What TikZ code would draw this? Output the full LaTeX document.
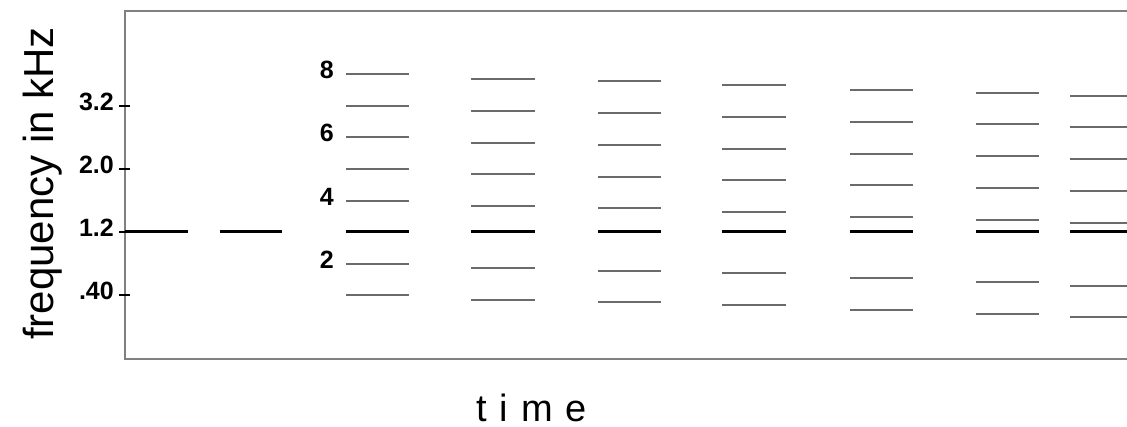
\documentclass[tikz,border=0pt]{standalone}
\usepackage{fontspec}
\setmainfont{Liberation Sans}
\begin{document}
\begin{tikzpicture}[x=1pt,y=-1pt,
  frame/.style={draw=black!50,line width=1.3pt},
  tickmark/.style={draw=black,line width=2.6pt},
  thinline/.style={draw=black!58,line width=1.2pt},
  thickline/.style={draw=black,line width=3pt},
  ticklab/.style={font=\bfseries\fontsize{25}{25}\selectfont,inner sep=0pt,anchor=base east},
  axislab/.style={font=\fontsize{42}{42}\selectfont,inner sep=0pt}]
\useasboundingbox (0,0) rectangle (1127,427);
\fill[white] (0,0) rectangle (1127,427);
% frame (open on the right)
\draw[frame] (1127,11) -- (125,11) -- (125,359) -- (1127,359);
% y ticks and labels
\foreach \y/\t/\n in {106/3.2/ta,169/2.0/tb,232/1.2/tc,295/.40/td}{
  \draw[tickmark] (119,\y) -- (130,\y);
  \node[ticklab] (\n) at (114,\y+5) {\t};
}
% axis labels
\node[axislab,rotate=90,anchor=base] (ylab) at (53,183.5) {frequency in kHz};
\node[font=\fontsize{38}{38}\selectfont,inner sep=0pt,text depth=0pt,anchor=base] (xlab) at (531.5,421) {t\hspace{13pt}i\hspace{13pt}m\hspace{13pt}e};
% single-tone segments
\draw[thickline] (125,232) -- (188,232);
\draw[thickline] (220,232) -- (282,232);
% harmonic columns
\foreach \xa/\xb/\ys in {
  346/409/{74,106,137,169,201,264,295},
  471/535/{79,111,143,174,206,268,300},
  598/661/{81,113,145,177,208,271,302},
  722/786/{85,117,149,180,212,273,305},
  850/913/{90,122,154,185,217,278,310},
  976/1039/{93,124,156,188,220,282,314},
  1070/1127/{96,127,159,191,223,286,317}}{
  \foreach \y in \ys { \draw[thinline] (\xa,\y) -- (\xb,\y); }
  \draw[thickline] (\xa,232) -- (\xb,232);
}
% harmonic numbers
\foreach \y/\t/\n in {74/8/ha,137/6/hb,201/4/hc,264/2/hd}{
  \node[ticklab] (\n) at (334,\y+5) {\t};
}
\end{tikzpicture}
\end{document}
